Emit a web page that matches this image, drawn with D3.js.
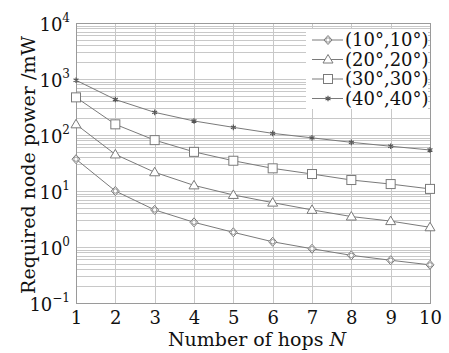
<!DOCTYPE html>
<html lang="en">
<head>
<meta charset="utf-8">
<title>Required node power vs hops</title>
<script src="https://cdn.jsdelivr.net/npm/d3@7"></script>
<style>
  body { margin: 0; background: #fff; }
  text { font-family: "DejaVu Serif", serif; fill: #111; }
  .grid line { stroke: #c8c8c8; stroke-width: 1; shape-rendering: crispEdges; }
</style>
</head>
<body>
<script>
// data
var hops = [1, 2, 3, 4, 5, 6, 7, 8, 9, 10];
var series10 = [37, 10, 4.6, 2.76, 1.83, 1.24, 0.93, 0.71, 0.58, 0.48];
var series20 = [155, 45, 21.6, 12.6, 8.5, 6.2, 4.6, 3.5, 2.9, 2.25];
var series30 = [470, 155, 81, 50, 34.7, 25.4, 20.1, 15.7, 13.3, 10.9];
var series40 = [950, 430, 254, 178, 137, 107, 89, 74, 63, 54];
var seriesNames = ["(10°,10°)", "(20°,20°)", "(30°,30°)", "(40°,40°)"];
var markers = ["diamond", "triangle", "square", "star"];
var yTickExp = [-1, 0, 1, 2, 3, 4];

var w = 449, h = 353;
var pLeft = 76, pRight = 430, pTop = 23, pBottom = 303;
var lineColor = "#7a7a7a";

var svg = d3.select("body").append("svg").attr("width", w).attr("height", h);

var x = d3.scaleLinear().domain([1, 10]).range([pLeft, pRight]);
var y = d3.scaleLog().domain([0.1, 10000]).range([pBottom, pTop]);

// grid
var minor = [];
for (var e = -1; e < 4; e++) {
  for (var k = 1; k < 10; k++) minor.push(k * Math.pow(10, e));
}
var grid = svg.append("g").attr("class", "grid");
grid.selectAll(".hg").data(minor).enter().append("line")
  .attr("x1", pLeft).attr("x2", pRight)
  .attr("y1", function(d) { return Math.round(y(d)) + 0.5; })
  .attr("y2", function(d) { return Math.round(y(d)) + 0.5; });
grid.selectAll(".vg").data(hops).enter().append("line")
  .attr("y1", pTop).attr("y2", pBottom)
  .attr("x1", function(d) { return Math.round(x(d)) + 0.5; })
  .attr("x2", function(d) { return Math.round(x(d)) + 0.5; });

// frame
svg.append("rect").attr("x", pLeft + 0.5).attr("y", pTop + 0.5)
  .attr("width", pRight - pLeft).attr("height", pBottom - pTop)
  .attr("fill", "none").attr("stroke", "#9a9a9a");

// axes
var xAxis = d3.axisBottom(x).tickValues(hops).tickSize(0).tickPadding(8)
  .tickFormat(d3.format("d"));
var gx = svg.append("g").attr("transform", "translate(0," + pBottom + ")").call(xAxis);
gx.select(".domain").remove();
gx.selectAll("text").attr("font-size", 18).attr("font-family", "DejaVu Serif").attr("fill", "#111");

var yAxis = d3.axisLeft(y).tickValues(yTickExp.map(function(p) { return Math.pow(10, p); }))
  .tickSize(0).tickPadding(6).tickFormat("");
var gy = svg.append("g").attr("transform", "translate(" + pLeft + ",0)").call(yAxis);
gy.select(".domain").remove();
gy.selectAll(".tick text").each(function(d) {
  var ex = Math.round(Math.log10(d));
  var t = d3.select(this).attr("font-size", 18).attr("font-family", "DejaVu Serif")
    .attr("fill", "#111").attr("dy", "0.4em").attr("x", -6);
  t.append("tspan").text("10");
  t.append("tspan").attr("font-size", 12).attr("dy", "-0.75em")
    .text(ex < 0 ? "\u2212" + (-ex) : String(ex));
});

// titles
svg.append("text").attr("x", 257).attr("y", 346).attr("text-anchor", "middle")
  .attr("font-size", 19)
  .html('Number of hops <tspan font-style="italic">N</tspan>');
svg.append("text").attr("transform", "translate(35,165) rotate(-90)")
  .attr("text-anchor", "middle").attr("font-size", 19)
  .text("Required node power /mW");

// series
var allSeries = [series10, series20, series30, series40];
var line = d3.line().x(function(d, i) { return x(hops[i]); }).y(function(d) { return y(d); });

function drawMarker(g, type, cx, cy) {
  if (type === "diamond") {
    g.append("path").attr("d", "M" + cx + "," + (cy - 4.5) + "L" + (cx + 4) + "," + cy + "L" + cx + "," + (cy + 4.5) + "L" + (cx - 4) + "," + cy + "Z")
      .attr("fill", "#fff").attr("stroke", lineColor);
    g.append("circle").attr("cx", cx).attr("cy", cy).attr("r", 2.2).attr("fill", "none").attr("stroke", lineColor).attr("stroke-width", 0.8);
  } else if (type === "triangle") {
    g.append("path").attr("d", "M" + cx + "," + (cy - 5) + "L" + (cx + 5) + "," + (cy + 3.5) + "L" + (cx - 5) + "," + (cy + 3.5) + "Z")
      .attr("fill", "#fff").attr("stroke", lineColor);
  } else if (type === "square") {
    g.append("rect").attr("x", cx - 4.5).attr("y", cy - 4.5).attr("width", 9).attr("height", 9)
      .attr("fill", "#fff").attr("stroke", lineColor);
  } else {
    g.append("path").attr("d", d3.symbol(d3.symbolAsterisk, 22)())
      .attr("transform", "translate(" + cx + "," + cy + ")")
      .attr("fill", "none").attr("stroke", "#555").attr("stroke-width", 1.2);
  }
}

allSeries.forEach(function(s, si) {
  var g = svg.append("g");
  g.append("path").datum(s).attr("d", line).attr("fill", "none")
    .attr("stroke", lineColor).attr("stroke-width", 1);
  s.forEach(function(v, i) { drawMarker(g, markers[si], x(hops[i]), y(v)); });
});

// legend
var lg = svg.append("g");
lg.append("rect").attr("x", 306).attr("y", 29).attr("width", 122).attr("height", 80).attr("fill", "#fff");
seriesNames.forEach(function(name, i) {
  var cy = 40 + i * 19.5;
  lg.append("line").attr("x1", 312).attr("x2", 343).attr("y1", cy).attr("y2", cy)
    .attr("stroke", lineColor);
  drawMarker(lg, markers[i], 328, cy);
  lg.append("text").attr("x", 345).attr("y", cy).attr("dy", "0.35em")
    .attr("font-size", 18).text(name);
});
</script>
</body>
</html>
